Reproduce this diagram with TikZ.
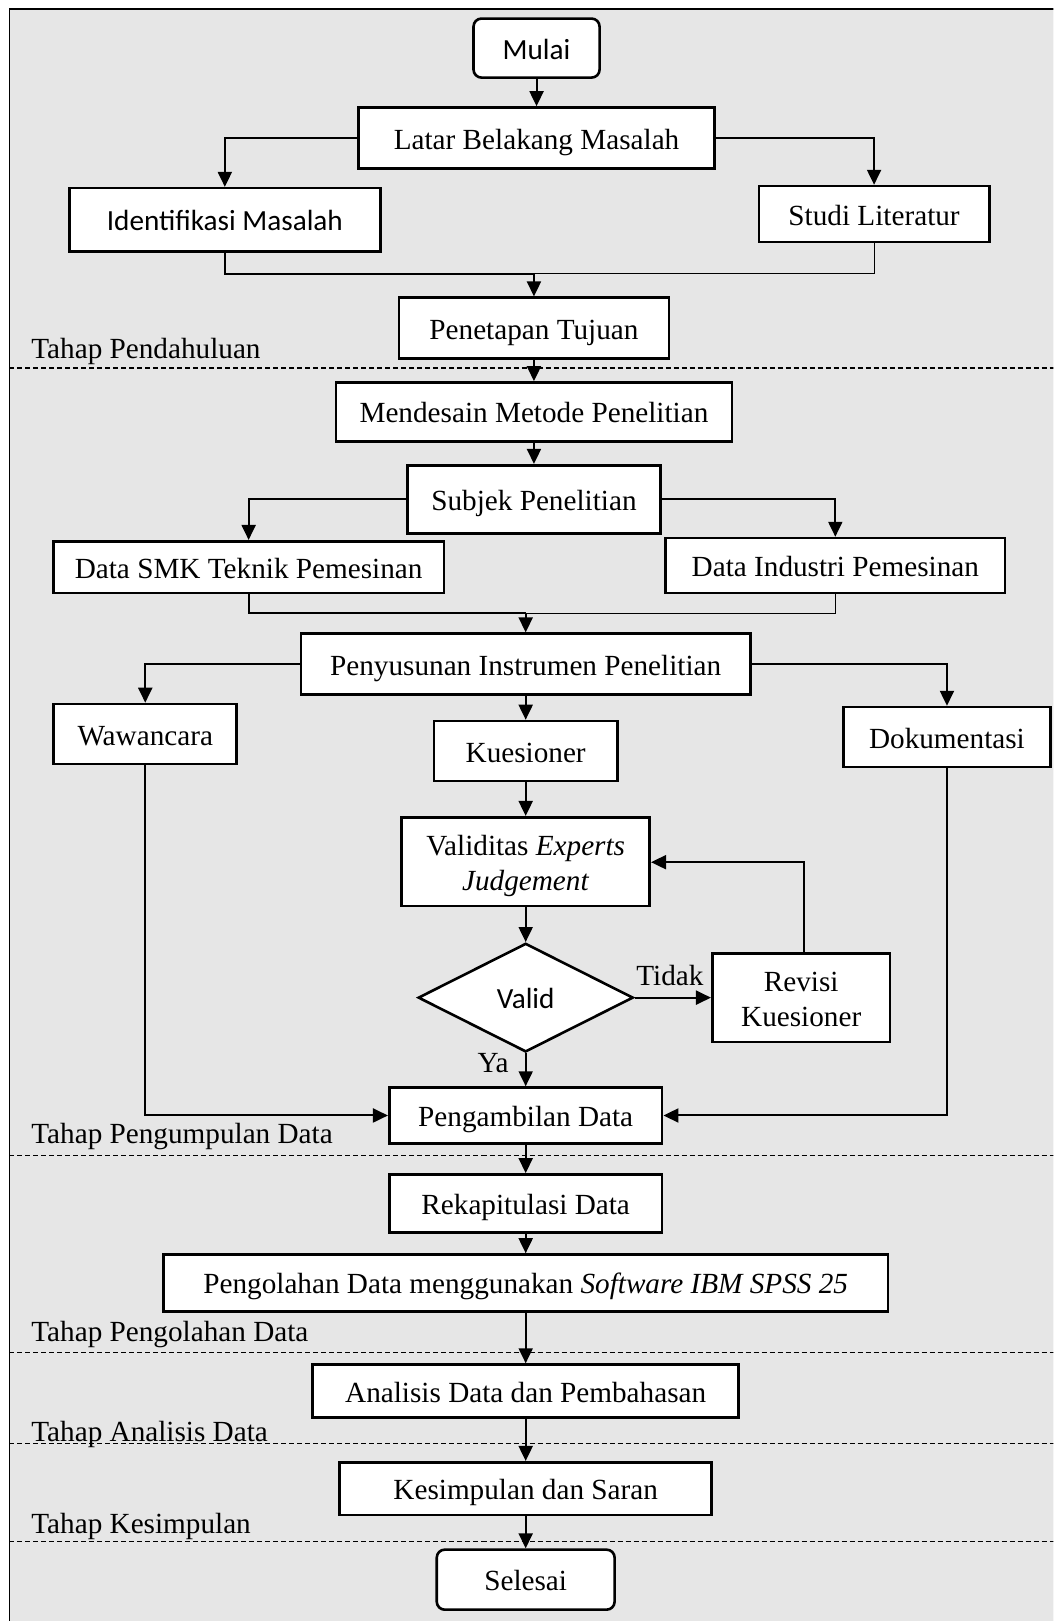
\documentclass[tikz,border=0pt]{standalone}
\usepackage{fontspec}
\setmainfont{Liberation Serif}
\newfontfamily\calib{Carlito}
\usetikzlibrary{arrows.meta,shapes.geometric}
\definecolor{bggray}{RGB}{230,230,230}
\begin{document}
\begin{tikzpicture}[x=0.5167pt,y=-0.5167pt,
  font=\fontsize{14.6}{17.6}\selectfont,
  box/.style={draw,line width=1.3pt,fill=white,inner sep=0pt,align=center,text height=11pt,text depth=0pt},
  emptybox/.style={draw,line width=1.3pt,fill=white,inner sep=0pt},
  boxtext/.style={inner sep=0pt,align=center},
  rbox/.style={box,rounded corners=4pt},
  conn/.style={line width=1pt,line join=miter,-{Triangle[length=7.5pt,width=7pt]}},
  plainline/.style={line width=1pt,line join=miter},
  thinline/.style={line width=0.5pt},
  phase/.style={line width=0.6pt,dash pattern=on 2.5pt off 1.5pt},
  phaselabel/.style={anchor=base west,inner sep=0pt},
  sansfont/.style={font=\calib\fontsize{14.6}{17.6}\selectfont}
]
\useasboundingbox (0,0) rectangle (1019,1568);
\clip (0,0) rectangle (1019,1568);
% background frame
\fill[bggray] (9,8.7) rectangle (1040,1590);
\draw[line width=0.75pt] (9,1590) -- (9,8.7) -- (1040,8.7);
% phase separators
\draw[phase] (9,356) -- (1040,356);
\draw[phase] (9,1118) -- (1040,1118);
\draw[phase] (9,1308) -- (1040,1308);
\draw[phase] (9,1396.5) -- (1040,1396.5);
\draw[phase] (9,1491) -- (1040,1491);
\node[phaselabel] (l1) at (30,347) {Tahap Pendahuluan};
\node[phaselabel] (l2) at (30,1106) {Tahap Pengumpulan Data};
\node[phaselabel] (l3) at (30,1298) {Tahap Pengolahan Data};
\node[phaselabel] (l4) at (30,1394) {Tahap Analisis Data};
\node[phaselabel] (l5) at (30,1483) {Tahap Kesimpulan};
% nodes
\node[rbox,sansfont,minimum width=63pt,minimum height=29.5pt] (mulai) at (519,46.5) {Mulai};
\node[box,minimum width=177.7pt,minimum height=30.5pt] (latar) at (519,133.5) {Latar Belakang Masalah};
\node[box,sansfont,minimum width=155.5pt,minimum height=31.5pt] (ident) at (217.5,212.5) {Identifikasi Masalah};
\node[box,minimum width=115.2pt,minimum height=27.9pt] (studi) at (845.5,207) {Studi Literatur};
\node[box,minimum width=134.9pt,minimum height=30.5pt] (penet) at (516.5,317.5) {Penetapan Tujuan};
\node[box,minimum width=197.9pt,minimum height=29.5pt] (mendes) at (516.5,398.5) {Mendesain Metode Penelitian};
\node[box,minimum width=126.6pt,minimum height=34.1pt] (subjek) at (516.5,483) {Subjek Penelitian};
\node[box,minimum width=195.3pt,minimum height=25.8pt] (smk) at (240.5,548.5) {Data SMK Teknik Pemesinan};
\node[box,minimum width=169.5pt,minimum height=27.4pt] (indus) at (808,547) {Data Industri Pemesinan};
\node[box,minimum width=224.8pt,minimum height=30.5pt] (penyus) at (508.5,642.5) {Penyusunan Instrumen Penelitian};
\node[box,minimum width=91.5pt,minimum height=30pt] (wawan) at (140.5,710) {Wawancara};
\node[box,minimum width=91.5pt,minimum height=30pt] (kues) at (508.5,726.5) {Kuesioner};
\node[box,minimum width=103.3pt,minimum height=30pt] (doku) at (916,713) {Dokumentasi};
\node[emptybox,minimum width=124pt,minimum height=44.4pt] (valid) at (508.5,833.5) {};
\node[boxtext,yshift=-2pt] (validtxt) at (valid.center) {Validitas \textit{Experts}\\\textit{Judgement}};
\node[draw,diamond,line width=1.3pt,fill=white,inner sep=0pt,minimum width=107.5pt,minimum height=54.3pt,sansfont,text height=11pt,text depth=0pt] (dia) at (508.5,965) {Valid};
\node[emptybox,minimum width=88.9pt,minimum height=44.4pt] (revisi) at (775,965) {};
\node[boxtext,yshift=-1pt] (revisitxt) at (revisi.center) {Revisi\\Kuesioner};
\node[box,minimum width=136.4pt,minimum height=27.9pt] (pengamb) at (508.5,1079) {Pengambilan Data};
\node[box,minimum width=136.4pt,minimum height=28.9pt] (rekap) at (508.5,1164) {Rekapitulasi Data};
\node[box,minimum width=362.2pt,minimum height=28.4pt] (pengol) at (508.5,1241) {Pengolahan Data menggunakan \textit{Software IBM SPSS 25}};
\node[box,minimum width=212.9pt,minimum height=26.4pt] (analis) at (508.5,1345.5) {Analisis Data dan Pembahasan};
\node[box,minimum width=186pt,minimum height=26.4pt] (kesim) at (508.5,1440) {Kesimpulan dan Saran};
\node[rbox,minimum width=88.9pt,minimum height=30pt] (selesai) at (508.5,1528) {Selesai};
% junctions
\coordinate (j1) at (516.5,265);
\coordinate (j2) at (508.5,593);
\coordinate (j3) at (778,834);
% connectors
\draw[conn] (mulai.south) -- (latar.north);
\draw[conn] (latar.west) -| (ident.north);
\draw[conn] (latar.east) -| (studi.north);
\draw[plainline] (ident.south) |- (j1);
\draw[thinline] (studi.south) |- (j1);
\draw[conn] (j1) -- (penet.north);
\draw[conn] (penet.south) -- (mendes.north);
\draw[conn] (mendes.south) -- (subjek.north);
\draw[conn] (subjek.west) -| (smk.north);
\draw[conn] (subjek.east) -| (indus.north);
\draw[plainline] (smk.south) |- (j2);
\draw[thinline] (indus.south) |- (j2);
\draw[conn] (j2) -- (penyus.north);
\draw[conn] (penyus.west) -| (wawan.north);
\draw[conn] (penyus.east) -| (doku.north);
\draw[conn] (penyus.south) -- (kues.north);
\draw[conn] (kues.south) -- (valid.north);
\draw[conn] (valid.south) -- (dia.north);
\draw[conn] (dia.east) -- (revisi.west);
\draw[conn] (revisi.north -| j3) -- (j3) -- (j3 -| valid.east);
\draw[conn] (dia.south) -- (pengamb.north);
\draw[conn] (wawan.south) |- (pengamb.west);
\draw[conn] (doku.south) |- (pengamb.east);
\draw[conn] (pengamb.south) -- (rekap.north);
\draw[conn] (rekap.south) -- (pengol.north);
\draw[conn] (pengol.south) -- (analis.north);
\draw[conn] (analis.south) -- (kesim.north);
\draw[conn] (kesim.south) -- (selesai.north);
% edge labels
\node[anchor=base,inner sep=0pt] (tidak) at (648,953) {Tidak};
\node[anchor=base,inner sep=0pt] (ya) at (477,1037) {Ya};
\end{tikzpicture}
\end{document}
